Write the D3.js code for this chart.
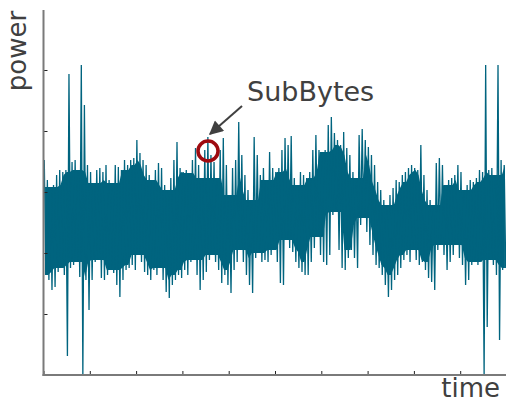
<!DOCTYPE html>
<html>
<head>
<meta charset="utf-8">
<script src="https://cdn.jsdelivr.net/npm/d3@7"></script>
<style>
  html, body { margin: 0; padding: 0; background: #fff; }
  text { font-family: "DejaVu Sans", sans-serif; fill: #404040; }
</style>
</head>
<body>
<svg id="chart" width="506" height="403"></svg>
<script>
// power trace, read off the picture as an upper and lower envelope per time bin
// (arbitrary power units, 0 at the time axis)
const traceHigh = [
  215, 195, 188, 190, 200, 205, 203, 205, 301, 213,
  215, 205, 310, 270, 210, 203, 192, 205, 207, 203,
  210, 195, 192, 210, 208, 205, 215, 210, 215, 217,
  235, 222, 215, 210, 200, 195, 205, 212, 207, 190,
  185, 197, 215, 233, 207, 203, 205, 202, 215, 227,
  210, 197, 225, 238, 220, 213, 197, 225, 237, 210,
  180, 207, 215, 253, 220, 200, 185, 175, 238, 220,
  200, 207, 195, 223, 207, 203, 207, 225, 237, 230,
  239, 197, 190, 203, 200, 197, 203, 225, 240, 225,
  223, 225, 250, 258, 242, 235, 230, 243, 227, 220,
  203, 197, 240, 246, 235, 228, 220, 210, 193, 185,
  175, 170, 180, 187, 195, 193, 200, 203, 207, 210,
  207, 205, 230, 200, 185, 175, 170, 212, 217, 210,
  190, 195, 197, 200, 210, 203, 185, 190, 195, 193,
  197, 205, 203, 310, 205, 207, 200, 310, 215, 210
];
const traceLow = [
  100,  95,  85,  88, 103, 107, 100,  19, 107, 110,
  113,  98,   0,  95,  65,  95, 113, 115,  97,  95,
  100, 105, 102,  90,  78,  95, 105, 107, 110, 105,
  120, 113, 103, 100,  95, 105, 100, 107,  95,  83,
   77,  90,  95, 100,  97, 105, 100, 113, 115, 100,
   85,  95, 103, 115, 120, 113, 105,  92, 100,  90,
   82, 105, 113, 125, 113, 100,  90,  82, 117, 122,
  113, 115, 113, 120, 125, 113,  92,  90, 135, 127,
  123, 113, 107, 103, 100, 100, 113, 127, 138, 120,
  113, 110, 120, 160, 163, 125, 107, 105, 117, 125,
  117, 107, 150, 157, 143, 130, 120, 110, 107, 100,
   90,  78,  85,  95, 100, 107, 115, 120, 113, 125,
  115, 110, 113, 105,  97,  93,  85, 125, 130, 120,
  105, 113, 120, 130, 117, 110,  90,  95, 110, 113,
  110, 113,   0,  48, 115, 110, 100,  35, 105, 107
];
const powerTicks = [0, 61, 122, 183, 244, 305];
const timeTicks = [0, 15, 30, 45, 60, 75, 90, 105, 120, 135];

// the SubBytes operation, marked on the trace
const subBytesMark = { time: 53.3, power: 224, label: "SubBytes" };

const width = 506, height = 403;
const margin = { top: 9, right: 0, bottom: 28, left: 43.5 };
const plotRight = 506.5;
const traceColor = "#00647f";

const svg = d3.select("#chart");

const x = d3.scaleLinear()
  .domain([0, traceHigh.length])
  .range([margin.left, plotRight]);

const y = d3.scaleLinear()
  .domain([0, 366])
  .range([height - margin.bottom, margin.top]);

// interleave the two envelopes so the line zig-zags like a dense trace
const samples = [];
traceHigh.forEach((hi, i) => {
  samples.push({ t: i + 0.25, v: hi });
  samples.push({ t: i + 0.75, v: traceLow[i] });
});

// the solid body of the trace: what every nearby bin covers
const n = traceHigh.length;
const core = traceHigh.map((hi, i) => {
  const idx = d3.range(Math.max(0, i - 2), Math.min(n, i + 3));
  return {
    t: i + 0.5,
    hi: d3.min(idx, j => traceHigh[j]),
    lo: d3.max(idx, j => traceLow[j])
  };
});

svg.append("clipPath")
  .attr("id", "plotClip")
  .append("rect")
  .attr("x", margin.left)
  .attr("y", margin.top)
  .attr("width", width - margin.left)
  .attr("height", y(0) - margin.top + 1);

const plot = svg.append("g").attr("clip-path", "url(#plotClip)");

plot.append("path")
  .datum(core)
  .attr("d", d3.area()
    .x(d => x(d.t))
    .y0(d => y(d.lo))
    .y1(d => y(d.hi)))
  .style("fill", traceColor);

plot.append("path")
  .datum(samples)
  .attr("d", d3.line()
    .x(d => x(d.t))
    .y(d => y(d.v)))
  .style("fill", "none")
  .style("stroke", traceColor)
  .style("stroke-width", 1.3)
  .style("stroke-linejoin", "bevel");

// axes: gray spines, short dark ticks pointing inwards, no tick labels
const yAxis = svg.append("g")
  .attr("transform", `translate(${margin.left},0)`)
  .call(d3.axisRight(y).tickValues(powerTicks).tickSize(4).tickFormat(""));

const xAxis = svg.append("g")
  .attr("transform", `translate(0,${y(0)})`)
  .call(d3.axisTop(x).tickValues(timeTicks).tickSize(4).tickFormat(""));

[yAxis, xAxis].forEach(g => {
  g.select(".domain").remove();
  g.selectAll(".tick line")
    .style("stroke", "#222")
    .style("stroke-width", 1);
});

svg.append("line")
  .attr("x1", margin.left).attr("x2", margin.left)
  .attr("y1", margin.top + 1).attr("y2", y(0) + 1)
  .style("stroke", "#7a7a7a")
  .style("stroke-width", 2);

svg.append("line")
  .attr("x1", margin.left - 1).attr("x2", width)
  .attr("y1", y(0)).attr("y2", y(0))
  .style("stroke", "#7a7a7a")
  .style("stroke-width", 2);

// axis titles
svg.append("text")
  .attr("transform", `translate(26,51) rotate(-90)`)
  .attr("text-anchor", "middle")
  .style("font-size", "26px")
  .text("power");

svg.append("text")
  .attr("x", 500)
  .attr("y", 397)
  .attr("text-anchor", "end")
  .style("font-size", "26px")
  .text("time");

// annotation: circle on the trace, arrow and label
const mx = x(subBytesMark.time), my = y(subBytesMark.power);

svg.append("defs").append("marker")
  .attr("id", "arrowHead")
  .attr("viewBox", "0 0 10 10")
  .attr("refX", 9)
  .attr("refY", 5)
  .attr("markerUnits", "userSpaceOnUse")
  .attr("markerWidth", 18)
  .attr("markerHeight", 14)
  .attr("orient", "auto")
  .append("path")
  .attr("d", "M0,0 L10,5 L0,10 z")
  .style("fill", "#404040");

svg.append("line")
  .attr("x1", mx + 34)
  .attr("y1", my - 45)
  .attr("x2", mx + 2)
  .attr("y2", my - 17)
  .attr("marker-end", "url(#arrowHead)")
  .style("stroke", "#404040")
  .style("stroke-width", 2);

svg.append("circle")
  .attr("cx", mx)
  .attr("cy", my)
  .attr("r", 10)
  .style("fill", "none")
  .style("stroke", "#9e0a10")
  .style("stroke-width", 3.5);

svg.append("text")
  .attr("x", mx + 39)
  .attr("y", my - 50)
  .style("font-size", "27px")
  .text(subBytesMark.label);
</script>
</body>
</html>
